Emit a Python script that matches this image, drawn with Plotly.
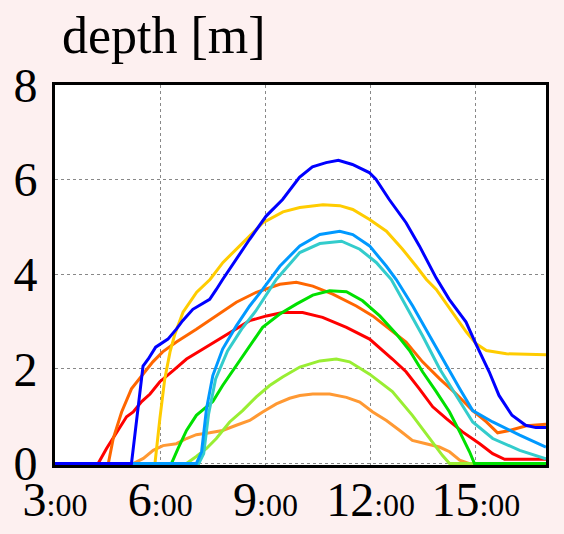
import plotly.graph_objects as go

# Water depth through the day at nine gauges (hours, metres)
blue_t = [3.0, 5.18, 5.51, 5.66, 5.87, 6.22, 6.46, 6.64, 6.93, 7.27, 7.41, 7.60, 7.78, 8.55, 9.02, 9.49, 9.97,
          10.34, 10.73, 11.08, 11.48, 11.96, 12.15, 12.53, 13.01, 13.39, 13.87, 14.24, 14.72, 15.00, 15.38,
          15.66, 16.03, 16.42, 16.71, 17.0]
blue_d = [0, 0, 2.06, 2.21, 2.46, 2.63, 2.84, 3.02, 3.26, 3.42, 3.47, 3.68, 3.89, 4.74, 5.23, 5.58, 6.05,
          6.27, 6.36, 6.41, 6.32, 6.15, 6.01, 5.58, 5.09, 4.60, 3.92, 3.47, 2.99, 2.53, 1.94,
          1.44, 1.02, 0.81, 0.76, 0.76]

yellow_t = [3.0, 5.85, 5.99, 6.13, 6.28, 6.42, 6.65, 7.04, 7.42, 7.79, 8.36, 8.93, 9.50, 9.98, 10.64, 11.12,
            11.49, 11.97, 12.45, 12.91, 13.30, 13.59, 13.87, 14.34, 14.73, 15.01, 15.30, 15.87, 17.0]
yellow_d = [0, 0, 0.95, 1.79, 2.36, 2.74, 3.20, 3.62, 3.89, 4.25, 4.67, 5.09, 5.32, 5.41, 5.47, 5.45,
            5.37, 5.16, 4.91, 4.53, 4.17, 3.89, 3.68, 3.20, 2.78, 2.53, 2.39, 2.32, 2.30]

dodger_t = [3.0, 7.03, 7.18, 7.32, 7.50, 7.78, 8.17, 8.55, 8.92, 9.12, 9.41, 9.98, 10.55, 11.12, 11.49, 11.97,
            12.45, 12.73, 13.20, 13.68, 14.16, 14.54, 14.91, 15.48, 16.25, 17.0]
dodger_d = [0, 0, 0.25, 1.16, 1.86, 2.42, 2.91, 3.33, 3.68, 3.89, 4.17, 4.60, 4.84, 4.91, 4.84, 4.60,
            4.17, 3.89, 3.33, 2.70, 2.07, 1.58, 1.12, 0.88, 0.60, 0.35]

turq_t = [3.0, 7.10, 7.24, 7.38, 7.58, 7.92, 8.32, 8.72, 9.31, 9.98, 10.55, 11.17, 11.69, 12.16, 12.59,
          13.02, 13.48, 13.97, 14.44, 14.91, 15.48, 16.25, 17.0]
turq_d = [0, 0, 0.21, 1.05, 1.79, 2.38, 2.84, 3.22, 3.89, 4.46, 4.65, 4.70, 4.53, 4.25, 3.89,
          3.33, 2.70, 2.00, 1.44, 0.88, 0.53, 0.28, 0.10]

orange_t = [3.0, 4.52, 4.66, 4.90, 5.18, 5.47, 5.79, 6.07, 6.46, 7.03, 7.60, 8.17, 8.74, 9.41, 9.88, 10.35,
            10.92, 11.59, 12.06, 12.54, 13.01, 13.48, 13.97, 14.44, 14.91, 15.30, 15.62, 15.96, 16.44, 17.0]
orange_d = [0, 0, 0.53, 1.09, 1.58, 1.86, 2.15, 2.36, 2.57, 2.84, 3.12, 3.41, 3.62, 3.79, 3.83, 3.75,
            3.58, 3.33, 3.12, 2.84, 2.57, 2.15, 1.79, 1.47, 1.12, 0.88, 0.65, 0.70, 0.80, 0.83]

red_t = [3.0, 4.23, 4.47, 4.76, 5.04, 5.23, 5.47, 5.71, 5.99, 6.36, 6.75, 7.22, 7.61, 8.07, 8.55, 9.03, 9.49,
         10.06, 10.63, 11.31, 11.97, 12.62, 13.01, 13.39, 13.77, 14.16, 14.62, 15.11, 15.48, 15.82, 17.0]
red_d = [0, 0, 0.32, 0.67, 0.99, 1.09, 1.31, 1.47, 1.73, 1.96, 2.21, 2.42, 2.60, 2.81, 3.02, 3.12, 3.19,
         3.19, 3.09, 2.88, 2.63, 2.21, 1.94, 1.58, 1.20, 0.95, 0.67, 0.42, 0.21, 0.09, 0.09]

green_t = [3.0, 6.32, 6.51, 6.75, 7.03, 7.27, 7.50, 7.78, 8.17, 8.55, 8.92, 9.41, 9.88, 10.35, 10.83, 11.31,
           11.77, 12.26, 12.73, 13.11, 13.48, 13.87, 14.25, 14.54, 14.82, 14.96, 17.0]
green_d = [0, 0, 0.32, 0.70, 1.02, 1.16, 1.31, 1.65, 2.07, 2.49, 2.88, 3.16, 3.37, 3.56, 3.65, 3.63,
           3.44, 3.12, 2.74, 2.39, 1.94, 1.52, 1.09, 0.67, 0.25, 0, 0]

lime_t = [3.0, 6.75, 7.03, 7.32, 7.60, 7.98, 8.35, 8.74, 9.12, 9.49, 9.98, 10.55, 11.02, 11.40, 11.97,
          12.62, 13.19, 13.68, 14.05, 14.25, 17.0]
lime_d = [0, 0, 0.15, 0.32, 0.53, 0.88, 1.12, 1.41, 1.65, 1.83, 2.04, 2.17, 2.21, 2.15, 1.89,
          1.52, 1.02, 0.53, 0.17, 0, 0]

peach_t = [3.0, 5.23, 5.52, 5.80, 6.08, 6.46, 6.75, 7.03, 7.41, 7.78, 8.17, 8.55, 8.92, 9.31, 9.69, 9.98,
           10.35, 10.83, 11.31, 11.69, 12.06, 12.45, 12.83, 13.19, 13.58, 13.96, 14.25, 14.54, 14.82, 17.0]
peach_d = [0, 0, 0.11, 0.28, 0.38, 0.42, 0.53, 0.61, 0.65, 0.70, 0.81, 0.91, 1.09, 1.26, 1.38, 1.44,
           1.47, 1.47, 1.40, 1.30, 1.09, 0.91, 0.70, 0.49, 0.42, 0.35, 0.25, 0.07, 0, 0]

hour_ticks = [3, 6, 9, 12, 15]
depth_ticks = [0, 2, 4, 6, 8]

# drawn bottom to top
series = [
    (peach_t, peach_d, "#ff9933"),
    (lime_t, lime_d, "#99ee33"),
    (red_t, red_d, "#ff0000"),
    (orange_t, orange_d, "#ff6600"),
    (green_t, green_d, "#00e000"),
    (turq_t, turq_d, "#33cccc"),
    (yellow_t, yellow_d, "#ffcc00"),
    (dodger_t, dodger_d, "#0099ff"),
    (blue_t, blue_d, "#0000ff"),
]

fig = go.Figure()
for t, d, c in series:
    fig.add_trace(go.Scatter(x=t, y=d, mode="lines", line=dict(color=c, width=3),
                             showlegend=False, hoverinfo="skip"))

serif = "Liberation Serif"
tick_text = [f"{h}<span style='font-size:32px'>:00</span>" for h in hour_ticks]

fig.update_layout(
    width=564, height=534,
    paper_bgcolor="#fdf0f0", plot_bgcolor="#ffffff",
    margin=dict(l=55, r=18, t=85, b=69, autoexpand=False),
    font=dict(family=serif, color="#000000"),
)
fig.update_xaxes(
    range=[3, 17], tickvals=hour_ticks, ticktext=tick_text, automargin=False,
    tickfont=dict(size=48, family=serif), ticks="", ticklabelstandoff=-10,
    showgrid=True, gridcolor="#888888", griddash="dot", gridwidth=1,
    showline=True, linecolor="#000000", linewidth=3, mirror=True, zeroline=False,
)
fig.update_yaxes(
    range=[-0.03, 8], tickvals=depth_ticks, automargin=False,
    tickfont=dict(size=48, family=serif), ticks="", ticklabelstandoff=5,
    showgrid=True, gridcolor="#888888", griddash="dot", gridwidth=1,
    showline=True, linecolor="#000000", linewidth=3, mirror=True, zeroline=False,
)
fig.add_annotation(
    text="depth [m]", xref="paper", yref="paper", x=0.01, y=1.21,
    xanchor="left", yanchor="top", showarrow=False,
    font=dict(size=52, family=serif, color="#000000"),
)

fig.write_html("out.html")
